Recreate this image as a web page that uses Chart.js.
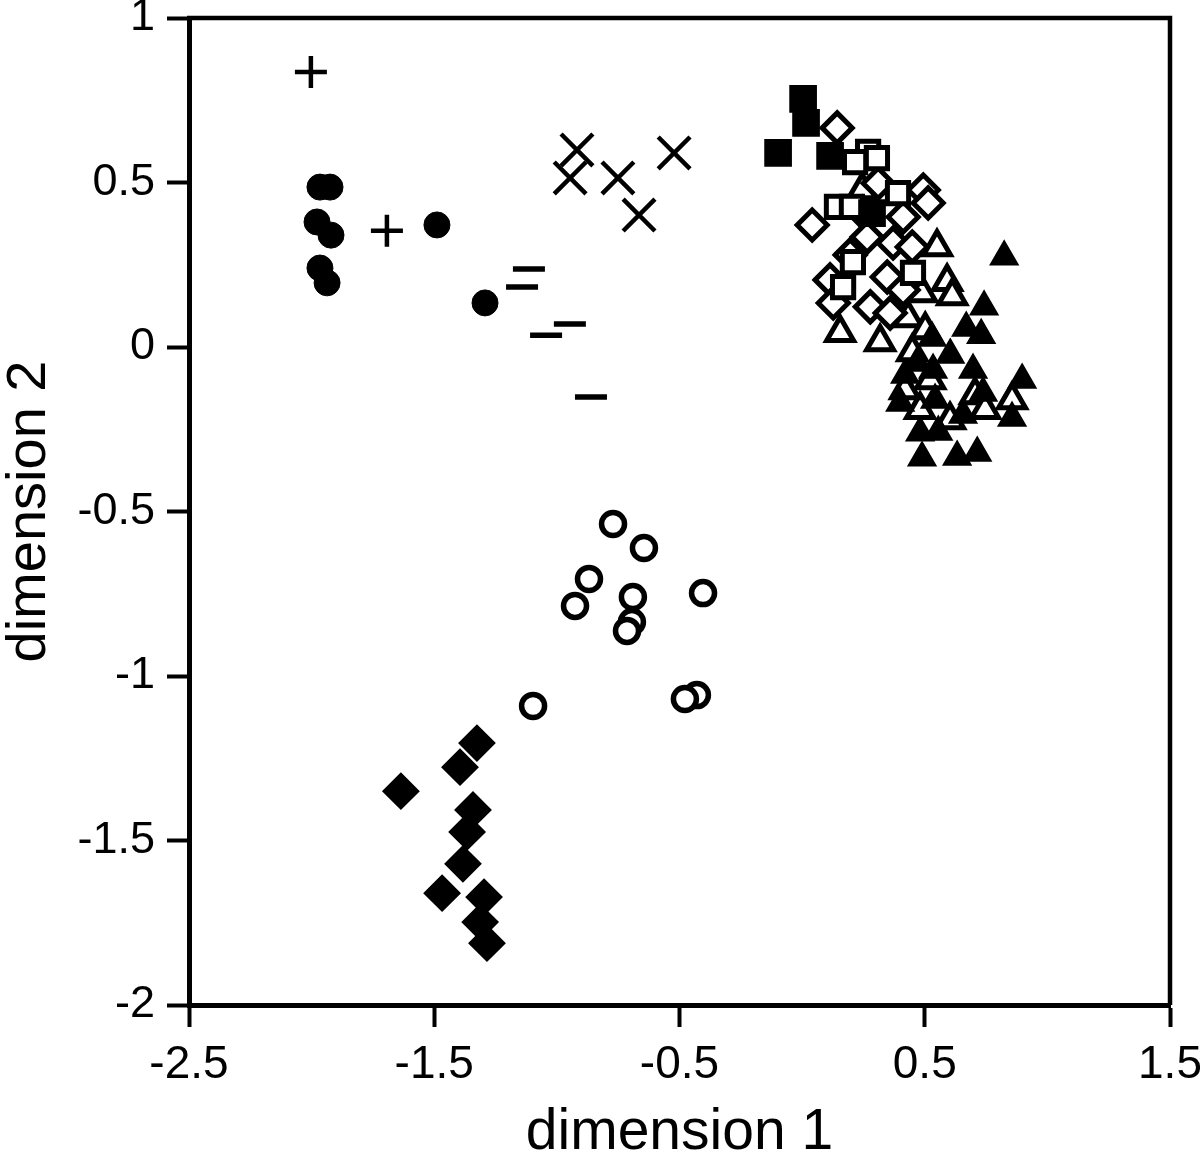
<!DOCTYPE html>
<html>
<head>
<meta charset="utf-8">
<title>dimension plot</title>
<script src="https://cdn.jsdelivr.net/npm/chart.js@4/dist/chart.umd.min.js"></script>
<style>
  html, body { margin: 0; padding: 0; background: #fff; }
  canvas { display: block; }
</style>
</head>
<body>
<canvas id="chart" width="1200" height="1157"></canvas>
<script>
// tick labels
var xTicks = [-2.5, -1.5, -0.5, 0.5, 1.5];
var yTicks = [1, 0.5, 0, -0.5, -1, -1.5, -2];

// groups as [dimension 1, dimension 2]
var plusPts = [[-2.003, 0.836], [-1.693, 0.353]];
var dotPts = [[-1.966, 0.486], [-1.925, 0.486], [-1.978, 0.380], [-1.921, 0.340],
    [-1.966, 0.240], [-1.937, 0.195], [-1.489, 0.371], [-1.293, 0.134]];
var crossPts = [[-0.918, 0.599], [-0.946, 0.514], [-0.751, 0.514], [-0.665, 0.401], [-0.522, 0.590]];
var dashPts = [[-1.114, 0.237], [-1.142, 0.182], [-0.947, 0.070], [-1.044, 0.036], [-0.861, -0.152]];
var ringPts = [[-0.771, -0.538], [-0.645, -0.611], [-0.869, -0.705], [-0.926, -0.787],
    [-0.690, -0.760], [-0.694, -0.836], [-0.714, -0.863], [-0.404, -0.748],
    [-1.097, -1.091], [-0.429, -1.058], [-0.478, -1.070]];
var blackDiamondPts = [[-1.326, -1.204], [-1.395, -1.277], [-1.636, -1.350], [-1.342, -1.407],
    [-1.366, -1.474], [-1.383, -1.571], [-1.468, -1.660], [-1.297, -1.672],
    [-1.313, -1.748], [-1.285, -1.812]];
var blackSquarePts = [[0.004, 0.754], [0.016, 0.681], [-0.098, 0.590], [0.114, 0.581], [0.285, 0.407]];
var openSquarePts = [[0.269, 0.593], [0.305, 0.574], [0.216, 0.562], [0.391, 0.468], [0.142, 0.426],
    [0.203, 0.426], [0.207, 0.258], [0.452, 0.225], [0.167, 0.182]];
var openDiamondPts = [[0.143, 0.666], [0.310, 0.498], [0.494, 0.477], [0.514, 0.438], [0.041, 0.371],
    [0.245, 0.410], [0.412, 0.395], [0.265, 0.334], [0.371, 0.316], [0.347, 0.213],
    [0.114, 0.204], [0.412, 0.173], [0.127, 0.134], [0.278, 0.122], [0.359, 0.103],
    [0.449, 0.304], [0.196, 0.280]];
var blackTrianglePts = [[0.824, 0.274], [0.742, 0.122], [0.669, 0.058], [0.730, 0.036], [0.530, 0.027],
    [0.697, -0.070], [0.897, -0.100], [0.469, -0.049], [0.534, -0.070], [0.420, -0.085],
    [0.400, -0.170], [0.542, -0.161], [0.656, -0.207], [0.738, -0.140], [0.856, -0.216],
    [0.555, -0.258], [0.481, -0.261], [0.489, -0.337], [0.632, -0.334], [0.714, -0.322],
    [0.604, -0.024]];
var openTrianglePts = [[0.155, 0.043], [0.318, 0.015], [0.432, 0.088], [0.245, 0.477], [0.550, 0.304],
    [0.591, 0.198], [0.612, 0.155], [0.489, 0.164], [0.502, 0.052], [0.449, -0.015],
    [0.522, -0.100], [0.705, -0.146], [0.856, -0.161], [0.746, -0.191], [0.481, -0.191],
    [0.603, -0.222], [0.420, -0.131]];

function toXY(pts) {
    return pts.map(function (p) { return { x: p[0], y: p[1] }; });
}

function series(pts, style, radius, fill, border) {
    return {
        data: toXY(pts),
        pointStyle: style,
        pointRadius: radius,
        pointBackgroundColor: fill,
        pointBorderColor: '#000',
        pointBorderWidth: border,
        showLine: false
    };
}

// draws the top and right edges of the box
const frame = {
    id: 'frame',
    beforeDatasetsDraw(chart) {
        const ctx = chart.ctx, a = chart.chartArea;
        ctx.save();
        ctx.strokeStyle = '#000';
        ctx.lineWidth = 4.5;
        ctx.beginPath();
        ctx.moveTo(a.left - 2, a.top);
        ctx.lineTo(a.right, a.top);
        ctx.lineTo(a.right, a.bottom);
        ctx.stroke();
        ctx.restore();
    }
};

function noPad(scale) {
    scale.paddingLeft = 0;
    scale.paddingRight = 0;
    scale.paddingTop = 0;
    scale.paddingBottom = 0;
}

var font = '"Liberation Sans", Arial, sans-serif';

var ctx = document.getElementById('chart').getContext('2d');
var chart = new Chart(ctx, {
    type: 'scatter',
    data: {
        // first dataset is drawn on top
        datasets: [
            series(blackSquarePts, 'rect', 18.5, '#000', 1.5),
            series(openSquarePts, 'rect', 15, '#fff', 5),
            series(openDiamondPts, 'rectRot', 15, '#fff', 5),
            series(blackTrianglePts, 'triangle', 16, '#000', 1.5),
            series(openTrianglePts, 'triangle', 15.5, '#fff', 5),
            series(plusPts, 'cross', 16, '#000', 4.5),
            series(dotPts, 'circle', 13, '#000', 1),
            series(crossPts, 'crossRot', 22.5, '#000', 4.5),
            series(dashPts, 'line', 16, '#000', 5.5),
            series(ringPts, 'circle', 11.5, '#fff', 5.5),
            series(blackDiamondPts, 'rectRot', 17.5, '#000', 2)
        ]
    },
    options: {
        responsive: false,
        animation: false,
        devicePixelRatio: 1,
        clip: false,
        layout: { autoPadding: false, padding: { left: 0, right: 30, top: 18, bottom: 0 } },
        plugins: {
            legend: { display: false },
            tooltip: { enabled: false }
        },
        scales: {
            x: {
                type: 'linear',
                min: -2.5,
                max: 1.5,
                afterBuildTicks: function (scale) {
                    scale.ticks = xTicks.map(function (v) { return { value: v }; });
                },
                afterFit: function (scale) {
                    scale.height = 152;
                    noPad(scale);
                },
                border: { display: true, color: '#000', width: 5 },
                grid: {
                    drawOnChartArea: false,
                    drawTicks: true,
                    tickLength: 22,
                    tickWidth: 4,
                    tickColor: '#000'
                },
                ticks: {
                    color: '#000',
                    padding: 11,
                    maxRotation: 0,
                    autoSkip: false,
                    font: { family: font, size: 46 },
                    callback: function (v) { return String(v); }
                },
                title: {
                    display: true,
                    text: 'dimension 1',
                    color: '#000',
                    font: { family: font, size: 57, lineHeight: 1 },
                    padding: { top: 0, bottom: -5 }
                }
            },
            y: {
                type: 'linear',
                min: -2,
                max: 1,
                afterBuildTicks: function (scale) {
                    scale.ticks = yTicks.map(function (v) { return { value: v }; });
                },
                afterFit: function (scale) {
                    scale.width = 189;
                    noPad(scale);
                },
                border: { display: true, color: '#000', width: 5 },
                grid: {
                    drawOnChartArea: false,
                    drawTicks: true,
                    tickLength: 22,
                    tickWidth: 4,
                    tickColor: '#000'
                },
                ticks: {
                    color: '#000',
                    padding: 12,
                    autoSkip: false,
                    font: { family: font, size: 45, lineHeight: 0.8 },
                    callback: function (v) { return String(v); }
                },
                title: {
                    display: true,
                    text: 'dimension 2',
                    color: '#000',
                    font: { family: font, size: 56, lineHeight: 1 },
                    padding: { top: 2, bottom: 0 }
                }
            }
        }
    },
    plugins: [frame]
});
</script>
</body>
</html>
